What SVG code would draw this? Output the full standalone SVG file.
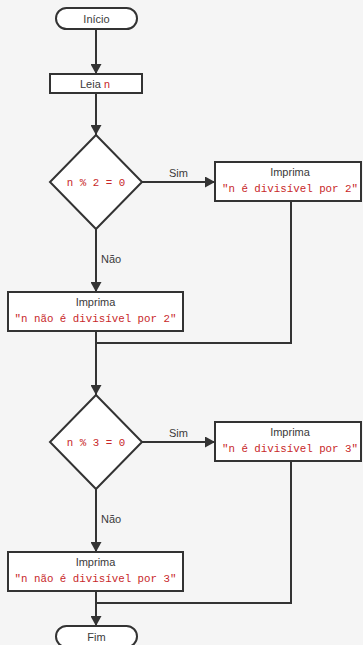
<svg xmlns="http://www.w3.org/2000/svg" width="363" height="645" viewBox="0 0 363 645">
<style>
.bg{fill:#f5f5f5}
.shape{fill:#ffffff;stroke:#333333;stroke-width:2}
.edge{fill:none;stroke:#333333;stroke-width:2}
.t{font-family:"Liberation Sans",Arial,sans-serif;font-size:11px;fill:#3a3a3a;text-anchor:middle}
.lbl{font-family:"Liberation Sans",Arial,sans-serif;font-size:11px;fill:#3a3a3a}
.c{font-family:"Liberation Mono","Courier New",monospace;font-size:10.8px;fill:#c8282a;text-anchor:middle}
.ci{font-family:"Liberation Mono","Courier New",monospace;font-size:10.8px;fill:#c8282a}
</style>
<defs>
<marker id="ah" markerUnits="userSpaceOnUse" markerWidth="11" markerHeight="11" refX="10" refY="5.5" orient="auto" viewBox="0 0 11 11">
<path d="M0,0 L10,5.5 L0,11 z" fill="#333333"/>
</marker>
</defs>
<rect class="bg" x="0" y="0" width="363" height="645"/>
<g id="connectors">
<line class="edge" x1="96" y1="29" x2="96" y2="74" marker-end="url(#ah)"/>
<line class="edge" x1="96" y1="93" x2="96" y2="135" marker-end="url(#ah)"/>
<line class="edge" x1="142" y1="182" x2="215" y2="182" marker-end="url(#ah)"/>
<text class="lbl" x="169" y="177">Sim</text>
<line class="edge" x1="96" y1="229" x2="96" y2="292" marker-end="url(#ah)"/>
<text class="lbl" x="101" y="263">Não</text>
<polyline class="edge" points="291,201 291,343 96,343"/>
<line class="edge" x1="96" y1="331" x2="96" y2="395" marker-end="url(#ah)"/>
<line class="edge" x1="142" y1="442" x2="215" y2="442" marker-end="url(#ah)"/>
<text class="lbl" x="169" y="437">Sim</text>
<line class="edge" x1="96" y1="489" x2="96" y2="552" marker-end="url(#ah)"/>
<text class="lbl" x="101" y="523">Não</text>
<polyline class="edge" points="291,461 291,603 96,603"/>
<line class="edge" x1="96" y1="591" x2="96" y2="626" marker-end="url(#ah)"/>
</g>
<g id="inicio">
<rect class="shape" x="56" y="8" width="81" height="21" rx="10.5"/>
<text class="t" x="96.5" y="22.5">Início</text>
</g>
<g id="leia">
<rect class="shape" x="50" y="74" width="92" height="19"/>
<text class="lbl" x="80" y="87.5">Leia <tspan class="ci">n</tspan></text>
</g>
<g id="cond2">
<polygon class="shape" points="96,135 142,182 96,229 50,182"/>
<text class="c" x="96" y="185.5">n % 2 = 0</text>
</g>
<g id="div2">
<rect class="shape" x="215" y="162" width="146" height="39"/>
<text class="t" x="290" y="176">Imprima</text>
<text class="c" x="290" y="192">"n é divisível por 2"</text>
</g>
<g id="naodiv2">
<rect class="shape" x="8" y="292" width="175" height="39"/>
<text class="t" x="95.5" y="306">Imprima</text>
<text class="c" x="95.5" y="322">"n não é divisível por 2"</text>
</g>
<g id="cond3">
<polygon class="shape" points="96,395 142,442 96,489 50,442"/>
<text class="c" x="96" y="445.5">n % 3 = 0</text>
</g>
<g id="div3">
<rect class="shape" x="215" y="422" width="146" height="39"/>
<text class="t" x="290" y="436">Imprima</text>
<text class="c" x="290" y="452">"n é divisível por 3"</text>
</g>
<g id="naodiv3">
<rect class="shape" x="8" y="552" width="175" height="39"/>
<text class="t" x="95.5" y="566">Imprima</text>
<text class="c" x="95.5" y="582">"n não é divisível por 3"</text>
</g>
<g id="fim">
<rect class="shape" x="56" y="626" width="81" height="21" rx="10.5"/>
<text class="t" x="96.5" y="641">Fim</text>
</g>
</svg>
